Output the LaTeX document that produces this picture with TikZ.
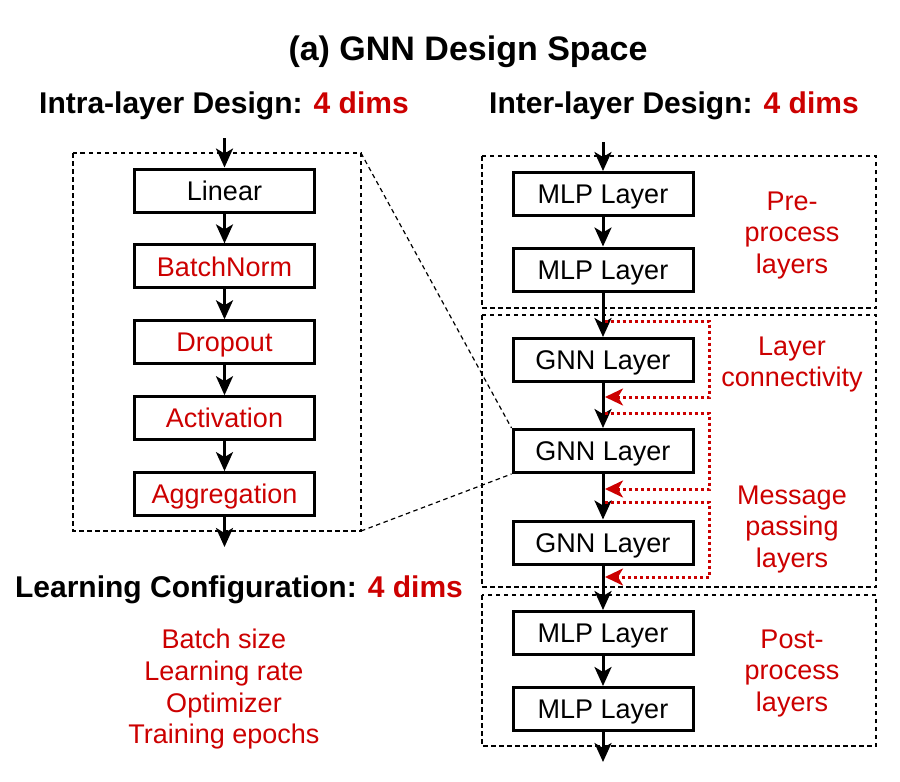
\documentclass[tikz,border=0pt]{standalone}
\usepackage{fontspec}
\setmainfont{Liberation Sans}
\usetikzlibrary{arrows.meta}
\definecolor{dred}{RGB}{204,0,0}
\begin{document}
\begin{tikzpicture}[x=1pt,y=-1pt,
  layerbox/.style={draw, line width=3pt, minimum width=180pt, minimum height=43pt, inner sep=0pt, text height=19.3pt, text depth=0pt, font=\fontsize{27}{32}\selectfont},
  flow/.style={line width=3pt, -{Stealth[length=19pt,width=17pt,inset=5pt]}},
  region/.style={draw, line width=1.2pt, dash pattern=on 4.5pt off 3.5pt},
  zoomline/.style={line width=1.2pt, dash pattern=on 4.5pt off 3.5pt},
  skip/.style={draw=dred, line width=3pt, dash pattern=on 3pt off 3pt, -{Stealth[length=18pt,width=17pt,inset=5pt]}},
  lbl/.style={anchor=base, text=dred, font=\fontsize{27}{32}\selectfont, inner sep=0pt},
  head/.style={anchor=base, font=\fontsize{30}{36}\selectfont\bfseries, inner sep=0pt},
]
\useasboundingbox (0,0) rectangle (900,782);

% titles
\node[head, font=\fontsize{34}{40}\selectfont\bfseries] (title) at (468,60) {(a) GNN Design Space};
\node[head] (intrahead) at (224,113) {Intra-layer Design: \textcolor{dred}{4 dims}};
\node[head] (interhead) at (674,113) {Inter-layer Design: \textcolor{dred}{4 dims}};
\node[head] (learnhead) at (239,597) {Learning Configuration: \textcolor{dred}{4 dims}};

% dashed regions
\draw[region] (73,153) coordinate (intraNW) rectangle (361,531) coordinate (intraSE);
\coordinate (intraNE) at (361,153);
\draw[region] (482,156) rectangle (876,308);
\draw[region] (482,315) rectangle (876,587);
\draw[region] (482,595) rectangle (876,746);

% left column
\node[layerbox] (lin) at (224.5,190.5) {Linear};
\node[layerbox, text=dred] (bn) at (224.5,266.4) {BatchNorm};
\node[layerbox, text=dred] (drop) at (224.5,342.3) {Dropout};
\node[layerbox, text=dred] (act) at (224.5,418.2) {Activation};
\node[layerbox, text=dred] (agg) at (224.5,494.1) {Aggregation};
\coordinate (lin-in) at (224.5,138);
\coordinate (agg-out) at (224.5,547);
\draw[flow] (lin-in) -- (lin);
\draw[flow] (lin) -- (bn);
\draw[flow] (bn) -- (drop);
\draw[flow] (drop) -- (act);
\draw[flow] (act) -- (agg);
\draw[flow] (agg) -- (agg-out);

% right column
\node[layerbox] (mlp1) at (603,194) {MLP Layer};
\node[layerbox] (mlp2) at (603,269.5) {MLP Layer};
\node[layerbox] (gnn1) at (603,360) {GNN Layer};
\node[layerbox] (gnn2) at (603,451) {GNN Layer};
\node[layerbox] (gnn3) at (603,542.5) {GNN Layer};
\node[layerbox] (mlp3) at (603,633) {MLP Layer};
\node[layerbox] (mlp4) at (603,709) {MLP Layer};
\coordinate (mlp-in) at (603,142);
\coordinate (mlp-out) at (603,762);
\draw[flow] (mlp-in) -- (mlp1);
\draw[flow] (mlp1) -- (mlp2);
\draw[flow] (mlp2) -- (gnn1);
\draw[flow] (gnn1) -- (gnn2);
\draw[flow] (gnn2) -- (gnn3);
\draw[flow] (gnn3) -- (mlp3);
\draw[flow] (mlp3) -- (mlp4);
\draw[flow] (mlp4) -- (mlp-out);

% zoom lines
\draw[zoomline] (intraNE) -- (gnn2.north west);
\draw[zoomline] (intraSE) -- (gnn2.south west);

% skip connections
\coordinate (s1a) at (604.5,321); \coordinate (s1b) at (605,397);
\coordinate (s2a) at (604.5,413); \coordinate (s2b) at (605,489);
\coordinate (s3a) at (604.5,502); \coordinate (s3b) at (605,577);
\draw[skip] (s1a) -- (709,321) -- (709,397) -- (s1b);
\draw[skip] (s2a) -- (709,413) -- (709,489) -- (s2b);
\draw[skip] (s3a) -- (709,502) -- (709,577) -- (s3b);

% red labels
\node[lbl] (pre1) at (792,210) {Pre-};
\node[lbl] (pre2) at (792,241.5) {process};
\node[lbl] (pre3) at (792,273) {layers};
\node[lbl] (con1) at (792,355) {Layer};
\node[lbl] (con2) at (792,386) {connectivity};
\node[lbl] (msg1) at (792,504) {Message};
\node[lbl] (msg2) at (792,535.5) {passing};
\node[lbl] (msg3) at (792,567) {layers};
\node[lbl] (post1) at (792,648) {Post-};
\node[lbl] (post2) at (792,679.5) {process};
\node[lbl] (post3) at (792,711) {layers};

% learning list
\node[lbl] (lc1) at (224,648) {Batch size};
\node[lbl] (lc2) at (224,680) {Learning rate};
\node[lbl] (lc3) at (224,712) {Optimizer};
\node[lbl] (lc4) at (224,743) {Training epochs};
\end{tikzpicture}
\end{document}
